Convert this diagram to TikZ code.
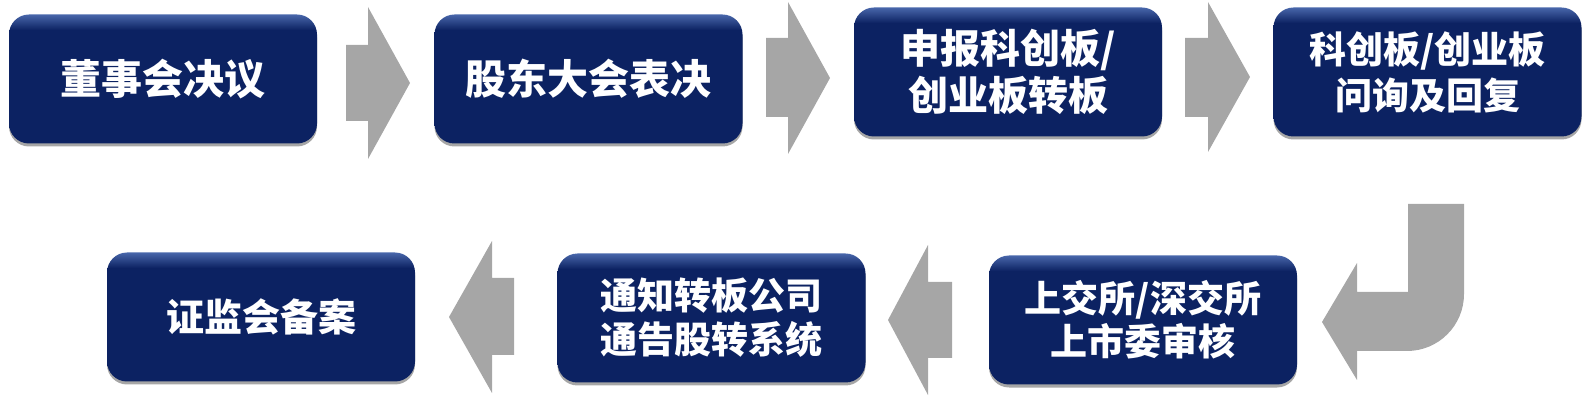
\documentclass[tikz,border=0pt]{standalone}
\usepackage{fontspec}
\newfontfamily\cjk{Noto Sans CJK SC}
\usetikzlibrary{shadows,positioning}

\definecolor{boxnavy}{RGB}{12,34,98}
\definecolor{boxtop}{RGB}{72,102,170}
\definecolor{arrowgray}{RGB}{166,166,166}
\pgfdeclareverticalshading{boxshade}{100bp}{color(0bp)=(boxnavy); color(69bp)=(boxnavy); color(75bp)=(boxtop); color(100bp)=(boxtop)}

\tikzset{
  stepbox/.style={rounded corners=20pt, shading=boxshade, minimum width=308pt, minimum height=129pt,
    text=white, align=center, drop shadow={shadow xshift=0pt, shadow yshift=-3pt, opacity=0.35, fill=black}},
  flowarrow/.style={fill=arrowgray, draw=none}
}

\begin{document}
\begin{tikzpicture}[x=1pt,y=-1pt]
\useasboundingbox (0,0) rectangle (1591,403);
% first row
\node[stepbox, font=\cjk\bfseries\fontsize{41}{48}\selectfont] (B1) at (163,79) {董事会决议};
\node[stepbox, font=\cjk\bfseries\fontsize{41}{48}\selectfont] (B2) at (588.5,79) {股东大会表决};
\node[stepbox, font=\cjk\bfseries\fontsize{40}{47}\selectfont] (B3) at (1008,72) {申报科创板/\\创业板转板};
\node[stepbox, font=\cjk\bfseries\fontsize{37}{46}\selectfont] (B4) at (1427.5,72) {科创板/创业板\\问询及回复};
% second row
\node[stepbox, font=\cjk\bfseries\fontsize{38}{45}\selectfont] (B5) at (261,317) {证监会备案};
\node[stepbox, font=\cjk\bfseries\fontsize{37}{44}\selectfont] (B6) at (711.5,318) {通知转板公司\\通告股转系统};
\node[stepbox, font=\cjk\bfseries\fontsize{37}{43}\selectfont] (B7) at (1143,320) {上交所/深交所\\上市委审核};
% gray block arrows
\fill[flowarrow] (346,45) -- (368,45) -- (368,7) -- (410,83) -- (368,159) -- (368,121) -- (346,121) -- cycle;
\fill[flowarrow] (766,38) -- (788,38) -- (788,2) -- (830,78) -- (788,154) -- (788,117) -- (766,117) -- cycle;
\fill[flowarrow] (1185,38) -- (1208,38) -- (1208,2) -- (1250,77) -- (1208,152) -- (1208,117) -- (1185,117) -- cycle;
\fill[flowarrow] (1408,204) -- (1464,204) -- (1464,294) .. controls (1464,325.5) and (1438.5,351) .. (1407,351)
  -- (1357,351) -- (1357,380) -- (1322,322) -- (1357,263) -- (1357,292) -- (1408,292) -- cycle;
\fill[flowarrow] (952,282) -- (928,282) -- (928,245) -- (888,320) -- (928,395) -- (928,358) -- (952,358) -- cycle;
\fill[flowarrow] (514,278) -- (492,278) -- (492,241) -- (449,317) -- (492,393) -- (492,355) -- (514,355) -- cycle;
\end{tikzpicture}
\end{document}
